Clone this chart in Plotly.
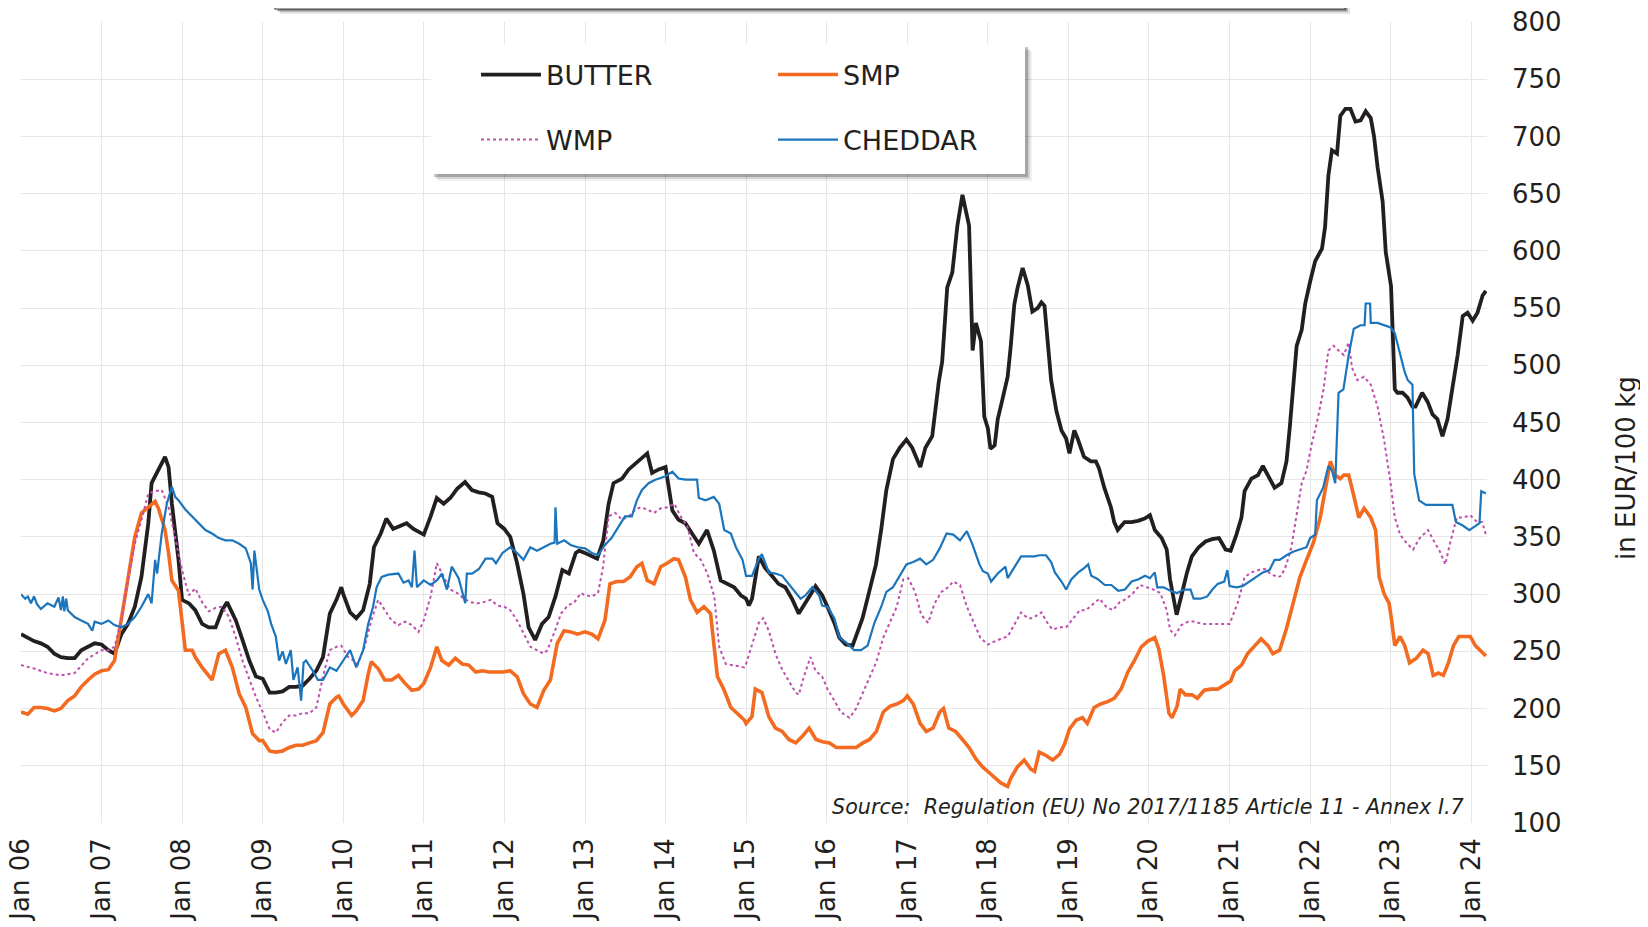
import plotly.graph_objects as go

# ---------------- data (EUR/100 kg) ----------------
butter_dates = ["2006-01-01","2006-02-01","2006-03-01","2006-04-01","2006-05-01","2006-06-01","2006-07-01","2006-08-01","2006-09-01","2006-10-01","2006-11-01","2006-12-01",
"2007-01-01","2007-02-01","2007-03-01","2007-04-01","2007-05-01","2007-06-01","2007-07-01","2007-08-01","2007-08-16","2007-09-16","2007-10-16","2007-11-01","2007-11-16","2007-12-16",
"2008-01-01","2008-02-01","2008-03-01","2008-04-01","2008-05-01","2008-06-01","2008-07-01","2008-07-23","2008-09-01","2008-10-01","2008-11-01","2008-12-01",
"2009-01-01","2009-02-01","2009-03-01","2009-04-01","2009-05-01","2009-06-01","2009-07-01","2009-08-01","2009-09-01","2009-10-01","2009-11-01","2009-12-01","2009-12-23",
"2010-01-01","2010-02-01","2010-03-01","2010-04-01","2010-05-01","2010-05-20","2010-06-20","2010-07-15","2010-08-15","2010-09-15","2010-10-15","2010-11-15","2010-12-08",
"2011-01-01","2011-02-01","2011-03-01","2011-04-01","2011-05-01","2011-06-01","2011-07-07","2011-08-07","2011-09-07","2011-10-07","2011-11-07","2011-12-01","2011-12-23",
"2012-01-01","2012-01-28","2012-02-28","2012-03-28","2012-04-20","2012-05-20","2012-06-20","2012-07-20","2012-08-20","2012-09-20","2012-10-20","2012-11-20","2012-12-05",
"2013-01-01","2013-02-10","2013-02-25","2013-03-25","2013-04-18","2013-05-10","2013-06-18","2013-07-18","2013-08-18","2013-09-18","2013-10-10","2013-11-01","2013-12-01",
"2014-01-01","2014-02-01","2014-03-01","2014-04-01","2014-05-01","2014-06-01","2014-07-08","2014-08-08","2014-09-08","2014-10-08","2014-11-08","2014-12-08",
"2015-01-01","2015-01-14","2015-01-28","2015-02-28","2015-03-28","2015-04-28","2015-05-28","2015-06-28","2015-07-28","2015-08-28","2015-09-28","2015-10-28","2015-11-12","2015-12-12",
"2016-01-05","2016-02-05","2016-02-28","2016-03-28","2016-04-28","2016-05-12","2016-06-12","2016-07-12","2016-08-12","2016-09-05","2016-09-28","2016-10-28","2016-11-28","2016-12-28",
"2017-01-23","2017-03-01","2017-03-24","2017-04-24","2017-05-24","2017-06-08","2017-07-01","2017-07-24","2017-08-16","2017-09-08","2017-10-08","2017-10-24","2017-11-08","2017-12-01","2017-12-16",
"2018-01-01","2018-01-13","2018-02-01","2018-02-15","2018-03-08","2018-04-01","2018-04-15","2018-05-01","2018-05-15","2018-06-01","2018-06-08","2018-07-01","2018-07-22","2018-08-15","2018-09-01","2018-09-15","2018-10-01","2018-10-15","2018-11-08","2018-12-01","2018-12-22",
"2019-01-06","2019-01-28","2019-02-12","2019-03-13","2019-04-13","2019-05-06","2019-05-20","2019-06-13","2019-07-13","2019-07-28","2019-08-13","2019-09-13","2019-10-13","2019-11-13","2019-12-13",
"2020-01-06","2020-01-28","2020-02-28","2020-03-22","2020-04-06","2020-04-22","2020-05-06","2020-05-28","2020-06-22","2020-07-14","2020-08-14","2020-09-14","2020-10-14","2020-11-14","2020-12-14",
"2021-01-06","2021-02-01","2021-02-24","2021-03-10","2021-04-10","2021-05-10","2021-06-01","2021-07-01","2021-07-24","2021-08-24","2021-09-16","2021-10-01","2021-10-16","2021-11-01","2021-11-24","2021-12-10",
"2022-01-01","2022-01-24","2022-02-24","2022-03-10","2022-03-25","2022-04-10","2022-05-03","2022-05-18","2022-06-10","2022-07-03","2022-07-26","2022-08-18","2022-09-10","2022-10-03","2022-10-18","2022-11-03","2022-11-26","2022-12-10",
"2023-01-03","2023-01-13","2023-01-20","2023-02-01","2023-02-24","2023-03-18","2023-04-10","2023-04-24","2023-05-24","2023-06-18","2023-07-10","2023-08-01","2023-08-24","2023-09-16","2023-10-08","2023-11-01","2023-11-24","2023-12-16",
"2024-01-08","2024-01-30","2024-02-22","2024-03-08"]
butter_vals = [265,262,259,257,254,248,245,244,244,251,254,257,
256,251,248,265,274,289,315,362,397,408,420,411,379,330,
295,292,286,274,271,271,286,293,277,260,242,228,
226,214,214,215,219,219,220,226,233,245,283,295,306,
300,284,279,286,309,341,353,366,357,360,362,357,355,
352,368,384,379,384,392,398,391,389,388,385,362,358,
357,350,327,300,271,260,274,280,298,321,318,336,338,
336,333,331,347,379,397,401,409,414,420,423,406,409,
411,373,365,362,353,344,356,338,312,309,306,299,
296,290,296,333,323,316,309,306,296,283,292,302,307,299,
289,275,262,256,255,262,279,302,326,357,391,418,428,435,
428,411,428,438,486,503,568,581,622,649,622,513,537,521,455,
445,427,430,453,470,490,517,553,567,580,585,570,547,550,555,552,513,487,460,443,436,
423,443,436,420,416,416,410,393,376,363,356,363,363,364,366,
369,356,349,339,313,296,282,299,319,333,341,346,348,349,339,
338,352,367,390,401,404,412,401,393,397,416,446,479,517,531,554,
573,591,602,621,666,688,685,718,724,724,713,714,722,716,700,673,643,599,
569,517,479,476,476,472,464,464,476,468,457,453,438,453,479,509,543,546,
539,546,561,565]

smp_dates = ["2006-01-01","2006-02-01","2006-03-01","2006-04-01","2006-05-01","2006-06-01","2006-07-01","2006-08-01","2006-09-01","2006-10-01","2006-11-01","2006-12-01",
"2007-01-01","2007-02-01","2007-03-01","2007-04-01","2007-05-01","2007-06-01","2007-07-01","2007-08-01","2007-09-01","2007-09-16","2007-10-16","2007-11-01","2007-11-16","2007-12-16",
"2008-01-01","2008-01-16","2008-02-16","2008-03-01","2008-04-01","2008-05-01","2008-05-16","2008-06-16","2008-07-16","2008-08-16","2008-09-16","2008-10-16","2008-11-16","2008-12-16",
"2009-01-01","2009-02-01","2009-03-01","2009-04-01","2009-05-01","2009-06-01","2009-07-01","2009-08-01","2009-09-01","2009-10-01","2009-11-01","2009-12-01","2009-12-12",
"2010-01-01","2010-02-08","2010-03-01","2010-04-01","2010-04-24","2010-05-08","2010-06-08","2010-07-08","2010-08-08","2010-09-08","2010-10-08","2010-11-08","2010-12-08",
"2011-01-01","2011-02-01","2011-03-01","2011-03-24","2011-04-24","2011-05-24","2011-06-24","2011-07-24","2011-08-24","2011-09-24","2011-10-24","2011-11-24","2011-12-24",
"2012-01-28","2012-02-28","2012-03-28","2012-04-28","2012-05-28","2012-06-28","2012-07-28","2012-08-28","2012-09-28","2012-10-28","2012-11-28",
"2013-01-01","2013-02-01","2013-03-01","2013-04-01","2013-04-24","2013-05-24","2013-06-24","2013-07-24","2013-08-24","2013-09-16","2013-10-10","2013-11-10","2013-12-10",
"2014-01-08","2014-02-08","2014-03-01","2014-04-01","2014-04-24","2014-05-24","2014-06-24","2014-07-24","2014-08-24","2014-09-24","2014-10-24","2014-11-24","2014-12-24",
"2015-01-01","2015-01-28","2015-02-12","2015-03-14","2015-04-14","2015-05-14","2015-06-14","2015-07-14","2015-08-14","2015-09-14","2015-10-14","2015-11-14","2015-12-14",
"2016-01-14","2016-02-14","2016-03-14","2016-04-14","2016-05-14","2016-06-14","2016-07-14","2016-08-14","2016-09-14","2016-10-14","2016-11-14","2016-12-14",
"2017-01-01","2017-01-28","2017-02-28","2017-03-28","2017-04-28","2017-05-28","2017-06-14","2017-07-08","2017-08-08","2017-09-08","2017-10-08","2017-11-08","2017-12-08",
"2018-01-01","2018-02-01","2018-03-01","2018-04-01","2018-04-15","2018-05-15","2018-06-15","2018-07-15","2018-08-01","2018-08-22","2018-09-22","2018-10-22","2018-11-22","2018-12-15",
"2019-01-06","2019-02-06","2019-03-06","2019-03-28","2019-04-28","2019-05-28","2019-06-28","2019-07-28","2019-08-28","2019-09-28","2019-10-28","2019-11-28","2019-12-28",
"2020-01-28","2020-02-15","2020-03-08","2020-04-01","2020-04-15","2020-05-08","2020-05-22","2020-06-15","2020-07-15","2020-08-08","2020-09-08","2020-10-08","2020-11-08","2020-12-08",
"2021-01-06","2021-01-24","2021-02-24","2021-03-24","2021-04-24","2021-05-24","2021-06-24","2021-07-16","2021-08-16","2021-09-16","2021-10-16","2021-11-16","2021-12-16",
"2022-01-16","2022-02-16","2022-03-10","2022-04-03","2022-04-25","2022-05-18","2022-06-03","2022-06-25","2022-07-18","2022-08-10","2022-09-03","2022-10-03","2022-10-25","2022-11-10","2022-12-03","2022-12-25",
"2023-01-05","2023-01-20","2023-02-13","2023-03-06","2023-03-28","2023-04-28","2023-05-28","2023-06-20","2023-07-13","2023-08-06","2023-08-28","2023-09-20","2023-10-13","2023-11-06","2023-11-28","2023-12-28",
"2024-01-20","2024-02-13","2024-03-08"]
smp_vals = [197,195,201,201,200,198,200,207,211,219,225,230,
233,234,242,280,315,350,371,376,381,375,356,336,312,303,
277,251,251,245,236,228,225,248,251,236,213,201,178,172,
172,163,162,163,166,168,168,170,172,179,204,210,211,
204,194,198,207,230,241,235,225,225,229,222,216,217,
222,236,254,242,238,244,239,238,232,233,232,232,232,
233,228,213,204,201,216,225,257,268,267,265,
267,265,261,277,309,311,311,315,324,327,312,309,324,
327,331,330,315,295,284,289,283,228,216,201,195,190,
187,193,217,214,193,183,180,173,170,176,183,173,171,
170,166,166,166,166,170,173,180,197,202,204,207,
211,204,187,180,183,197,200,183,180,173,166,156,149,
145,140,135,132,139,149,155,147,145,162,159,155,160,169,
182,190,192,187,201,204,206,209,217,232,242,254,259,
262,252,229,196,192,202,217,212,212,209,216,217,217,221,
224,233,238,248,255,261,255,248,251,270,292,315,330,
345,367,390,416,404,401,404,404,386,367,375,367,356,315,300,292,
278,255,263,255,240,244,251,248,229,231,229,240,255,263,263,263,
255,251,246]

wmp_dates = ["2006-01-01","2006-03-01","2006-05-01","2006-07-01","2006-09-01","2006-10-01","2006-11-01",
"2007-01-01","2007-02-01","2007-03-01","2007-04-01","2007-05-01","2007-06-01","2007-07-01","2007-08-01","2007-09-01","2007-10-01","2007-11-01","2007-12-01",
"2008-01-01","2008-02-01","2008-03-01","2008-04-01","2008-05-01","2008-06-01","2008-07-01","2008-08-01","2008-09-01","2008-10-01","2008-11-01","2008-12-01",
"2009-01-01","2009-02-01","2009-03-01","2009-04-01","2009-05-01","2009-06-01","2009-07-01","2009-08-01","2009-09-01","2009-10-01","2009-11-01","2009-12-01","2009-12-23",
"2010-01-23","2010-02-16","2010-03-08","2010-04-08","2010-05-08","2010-06-08","2010-07-08","2010-08-08","2010-09-08","2010-10-08","2010-11-08","2010-12-08",
"2011-01-01","2011-02-01","2011-03-01","2011-04-01","2011-05-01","2011-06-01","2011-07-01","2011-08-01","2011-09-01","2011-10-01","2011-11-01","2011-12-01",
"2012-01-01","2012-01-28","2012-02-28","2012-03-28","2012-04-28","2012-05-28","2012-06-28","2012-07-14","2012-08-14","2012-09-14","2012-10-14","2012-11-14","2012-12-14",
"2013-01-01","2013-02-01","2013-03-01","2013-03-24","2013-04-18","2013-05-18","2013-06-18","2013-07-18","2013-08-18","2013-09-10","2013-10-10","2013-11-10","2013-12-10",
"2014-01-10","2014-02-10","2014-03-10","2014-04-10","2014-05-10","2014-06-10","2014-07-10","2014-08-10","2014-09-01","2014-10-01","2014-11-01","2014-12-24",
"2015-01-01","2015-01-28","2015-02-28","2015-03-20","2015-04-14","2015-05-14","2015-06-14","2015-07-14","2015-08-14","2015-08-28","2015-09-20","2015-10-20","2015-11-12","2015-12-12",
"2016-01-05","2016-02-05","2016-03-05","2016-04-14","2016-05-14","2016-06-14","2016-07-14","2016-08-14","2016-09-14","2016-10-14","2016-11-14","2016-12-14",
"2017-01-05","2017-02-05","2017-03-05","2017-04-05","2017-05-05","2017-06-05","2017-07-05","2017-07-28","2017-08-28","2017-09-28","2017-10-28","2017-11-28",
"2018-01-01","2018-02-01","2018-03-01","2018-04-01","2018-05-01","2018-06-01","2018-07-01","2018-07-22","2018-09-01","2018-10-01","2018-10-22","2018-11-22","2018-12-22",
"2019-01-22","2019-02-22","2019-03-22","2019-04-22","2019-05-22","2019-06-22","2019-07-22","2019-08-22","2019-09-22","2019-10-22","2019-11-22","2019-12-22",
"2020-01-22","2020-02-22","2020-03-22","2020-04-06","2020-04-28","2020-05-28","2020-06-28","2020-07-28","2020-08-28","2020-09-28","2020-10-28","2020-11-28",
"2021-01-01","2021-02-08","2021-03-10","2021-04-10","2021-05-10","2021-06-10","2021-07-10","2021-08-10","2021-08-24","2021-09-16","2021-10-08","2021-10-24","2021-11-24","2021-12-16",
"2022-01-08","2022-01-31","2022-03-03","2022-03-25","2022-04-18","2022-05-10","2022-06-03","2022-06-25","2022-07-10","2022-08-03","2022-09-03","2022-10-03","2022-11-03","2022-12-03",
"2023-01-01","2023-01-20","2023-02-13","2023-03-13","2023-04-13","2023-05-13","2023-06-20","2023-07-20","2023-08-13","2023-09-06","2023-09-28","2023-10-28","2023-11-28","2023-12-28",
"2024-01-28","2024-02-20","2024-03-08"]
wmp_vals = [238,235,231,229,231,237,244,
251,251,254,277,312,344,365,388,390,391,376,350,
321,299,305,293,285,288,289,280,262,242,225,210,
197,182,179,188,194,194,196,196,201,228,251,254,255,
245,242,239,254,277,295,286,277,273,276,273,267,
277,298,327,315,304,301,296,293,292,293,295,290,
289,286,277,266,254,251,248,251,266,283,290,293,301,
299,298,301,324,368,371,365,368,374,376,374,371,375,
376,379,368,359,336,330,318,298,254,239,238,236,
239,255,275,279,268,248,234,224,214,212,228,245,233,228,
217,207,197,192,200,214,228,241,262,275,289,313,
314,302,282,275,292,302,306,311,308,289,275,262,
256,259,261,263,273,284,279,279,284,274,269,271,271,
278,286,286,291,296,289,286,293,296,301,308,306,
304,301,286,269,264,273,276,276,274,274,274,274,
274,293,315,319,321,322,317,315,316,326,341,360,397,408,
431,449,479,513,517,513,509,520,498,487,490,483,464,434,
397,367,352,345,339,349,356,345,337,326,345,367,367,369,
363,363,352]

cheddar_dates = ["2006-01-01","2006-01-20","2006-02-01","2006-02-15","2006-03-01","2006-03-15","2006-04-01","2006-05-01","2006-06-01","2006-06-20","2006-07-01","2006-07-10","2006-07-16","2006-07-25","2006-08-01","2006-09-01","2006-10-01","2006-11-01","2006-11-20","2006-12-01",
"2007-01-01","2007-02-01","2007-03-01","2007-04-01","2007-05-01","2007-06-01","2007-07-01","2007-08-01","2007-08-16","2007-09-01","2007-09-10","2007-10-01","2007-10-24","2007-11-16","2007-12-01","2007-12-16",
"2008-01-16","2008-02-16","2008-03-16","2008-04-16","2008-05-16","2008-06-16","2008-07-16","2008-08-16","2008-09-16","2008-10-16","2008-11-08","2008-11-16","2008-11-24","2008-12-16",
"2009-01-01","2009-01-24","2009-02-08","2009-03-01","2009-03-16","2009-04-01","2009-04-16","2009-05-08","2009-05-20","2009-06-08","2009-06-24","2009-07-05","2009-07-16","2009-08-16","2009-09-08","2009-10-01","2009-11-01","2009-12-01",
"2010-01-01","2010-02-01","2010-03-01","2010-04-01","2010-04-24","2010-05-16","2010-06-01","2010-06-24","2010-07-24","2010-08-24","2010-09-08","2010-10-01","2010-10-24","2010-11-08","2010-11-20","2010-12-01",
"2011-01-01","2011-02-01","2011-03-01","2011-03-24","2011-04-16","2011-05-08","2011-06-08","2011-07-08","2011-07-15","2011-08-08","2011-09-08","2011-10-08","2011-11-08","2011-11-24","2011-12-24",
"2012-01-28","2012-02-28","2012-03-28","2012-04-28","2012-05-28","2012-06-28","2012-07-28","2012-08-16","2012-08-20","2012-08-28","2012-09-28","2012-10-28","2012-11-28",
"2013-01-01","2013-02-01","2013-03-01","2013-04-01","2013-05-01","2013-06-01","2013-07-01","2013-08-01","2013-08-24","2013-09-16","2013-10-16","2013-11-16",
"2014-01-01","2014-02-01","2014-03-01","2014-04-01","2014-05-24","2014-06-01","2014-07-01","2014-08-08","2014-09-01","2014-09-24","2014-10-24","2014-11-16","2014-12-16",
"2015-01-01","2015-01-28","2015-02-28","2015-03-14","2015-04-14","2015-05-14","2015-06-14","2015-07-14","2015-08-14","2015-09-05","2015-09-28","2015-10-28","2015-11-28","2015-12-12",
"2016-01-05","2016-02-05","2016-02-28","2016-03-28","2016-05-05","2016-06-05","2016-07-05","2016-08-05","2016-09-05","2016-09-28","2016-10-28","2016-11-28","2016-12-28",
"2017-01-28","2017-02-28","2017-03-28","2017-04-28","2017-05-28","2017-06-28","2017-07-28","2017-08-28","2017-09-28","2017-10-24","2017-11-24","2017-12-10",
"2018-01-01","2018-01-16","2018-02-15","2018-03-22","2018-04-01","2018-05-01","2018-06-01","2018-07-01","2018-08-01","2018-08-22","2018-09-22","2018-10-15","2018-11-01","2018-12-01","2018-12-22",
"2019-01-15","2019-02-15","2019-03-15","2019-04-01","2019-04-15","2019-05-15","2019-06-15","2019-07-15","2019-08-15","2019-09-15","2019-10-15","2019-11-15","2019-12-15",
"2020-01-06","2020-01-28","2020-02-08","2020-03-08","2020-04-08","2020-05-08","2020-06-08","2020-07-08","2020-07-22","2020-08-22","2020-09-22","2020-10-15","2020-11-08","2020-12-08","2020-12-22",
"2021-01-01","2021-02-01","2021-03-01","2021-04-01","2021-05-01","2021-06-01","2021-07-01","2021-07-24","2021-08-16","2021-09-16","2021-10-16","2021-11-16","2021-12-16",
"2022-01-01","2022-01-24","2022-02-01","2022-03-01","2022-03-25","2022-04-10","2022-04-25","2022-05-10","2022-06-01","2022-06-25","2022-07-18","2022-08-18","2022-09-05","2022-09-10","2022-09-30","2022-10-03","2022-11-03","2022-12-03",
"2023-01-01","2023-01-20","2023-02-13","2023-03-06","2023-03-20","2023-04-10","2023-04-18","2023-05-10","2023-06-10","2023-07-10","2023-08-10","2023-09-10","2023-10-08","2023-10-24","2023-11-24","2023-12-24",
"2024-01-08","2024-01-24","2024-02-08","2024-02-16","2024-03-08"]
cheddar_vals = [300,296,298,292,298,291,287,292,289,297,286,298,285,296,286,280,277,274,268,276,
274,277,273,271,274,280,289,300,292,330,318,353,379,394,385,382,
374,368,362,356,353,349,347,347,344,340,327,304,338,304,
295,285,274,263,242,250,239,251,225,236,207,240,242,233,225,225,236,233,
242,251,236,251,274,289,306,315,317,318,318,310,312,306,338,306,
312,308,312,318,304,324,314,292,318,318,322,331,331,327,336,
341,336,330,341,338,341,344,345,376,344,347,343,341,
340,336,334,343,349,359,368,368,382,391,397,400,
403,407,401,400,400,384,382,385,379,356,353,341,330,
316,316,331,335,319,318,316,309,301,296,299,306,299,290,
289,279,262,258,251,251,255,275,289,302,306,316,326,
328,331,326,330,340,353,352,347,355,343,326,320,
318,311,318,324,314,323,333,333,333,334,334,328,319,311,304,
313,319,323,326,316,313,308,308,303,304,311,313,316,
314,319,306,306,303,301,304,304,296,296,298,304,309,311,321,
307,306,307,311,315,319,321,330,330,334,337,339,341,
349,352,382,393,412,408,397,476,479,509,532,535,535,554,554,537,537,535,
533,528,509,494,487,483,405,382,378,378,378,378,378,363,360,356,
358,360,362,390,388]

series_names = ["BUTTER", "SMP", "WMP", "CHEDDAR"]
y_ticks = [100, 150, 200, 250, 300, 350, 400, 450, 500, 550, 600, 650, 700, 750, 800]
source_text = "Source:  Regulation (EU) No 2017/1185 Article 11 - Annex I.7"
y_title = "in EUR/100 kg"

# ---------------- styling ----------------
TXT = "#231F20"
FONT = "DejaVu Sans"
OFF = 8                      # page body margin offset
W, H = 1640, 919             # figure size (fits the window after the body offset)
L, T = 21 - OFF, 22 - OFF    # plot area starts at screen x=21, y=22
PW, PH = 1466, 801           # plot area size
R, B = W - L - PW, H - T - PH


def px(x):  # screen pixel -> paper x
    return (x - OFF - L) / PW


def py(y):  # screen pixel -> paper y
    return (T + PH - (y - OFF)) / PH


fig = go.Figure()
fig.add_trace(go.Scatter(x=butter_dates, y=butter_vals, name=series_names[0], mode="lines",
                         line=dict(color="#231F20", width=3.8), legend="legend"))
fig.add_trace(go.Scatter(x=smp_dates, y=smp_vals, name=series_names[1], mode="lines",
                         line=dict(color="#F36A21", width=3.6), legend="legend"))
fig.add_trace(go.Scatter(x=wmp_dates, y=wmp_vals, name=series_names[2], mode="lines",
                         line=dict(color="#BF4FAD", width=2, dash="dot"), legend="legend2"))
fig.add_trace(go.Scatter(x=cheddar_dates, y=cheddar_vals, name=series_names[3], mode="lines",
                         line=dict(color="#1B75BC", width=2.2), legend="legend2"))

shapes = []
# top title box (cut off by the page edge)
tb = (275, 1345, -40, 9)
for off, op in [(5, 0.10), (3, 0.20), (1.5, 0.35)]:
    shapes.append(dict(type="rect", xref="paper", yref="paper", layer="above",
                       x0=px(tb[0] + off), x1=px(tb[1] + off), y0=py(tb[3] + off), y1=py(tb[2]),
                       fillcolor=f"rgba(0,0,0,{op})", line=dict(width=0)))
shapes.append(dict(type="rect", xref="paper", yref="paper", layer="above",
                   x0=px(tb[0]), x1=px(tb[1]), y0=py(tb[3]), y1=py(tb[2]),
                   fillcolor="white", line=dict(color="#444444", width=1.2)))
# legend box with drop shadow
lb = (431, 1025, 44, 174)
for off, op in [(7, 0.06), (5, 0.12), (3, 0.22)]:
    shapes.append(dict(type="rect", xref="paper", yref="paper", layer="above",
                       x0=px(lb[0] + off), x1=px(lb[1] + off), y0=py(lb[3] + off), y1=py(lb[2] + off),
                       fillcolor=f"rgba(0,0,0,{op})", line=dict(width=0)))
shapes.append(dict(type="rect", xref="paper", yref="paper", layer="above",
                   x0=px(lb[0]), x1=px(lb[1]), y0=py(lb[3]), y1=py(lb[2]),
                   fillcolor="white", line=dict(width=0)))

legend_common = dict(orientation="h", xref="paper", yref="paper", xanchor="left", yanchor="middle",
                     entrywidth=222, entrywidthmode="pixels", itemwidth=60,
                     font=dict(family=FONT, size=27, color=TXT), bgcolor="rgba(0,0,0,0)", borderwidth=0,
                     itemclick=False, itemdoubleclick=False)

fig.update_layout(
    width=W, height=H,
    margin=dict(l=L, r=R, t=T, b=B, autoexpand=False),
    paper_bgcolor="white", plot_bgcolor="white",
    showlegend=True,
    legend=dict(legend_common, x=px(476), y=py(75)),
    legend2=dict(legend_common, x=px(476), y=py(140)),
    shapes=shapes,
    xaxis=dict(type="date", range=["2006-01-01", "2024-03-13"], tick0="2006-01-01", dtick="M12",
               tickformat="%b %y", tickangle=-90, showgrid=True, gridcolor="#E6E6E6", gridwidth=1,
               zeroline=False, showline=False, ticks="", ticklabelstandoff=9, automargin=False,
               ticklabeloverflow="allow",
               tickfont=dict(family=FONT, size=26, color=TXT)),
    yaxis=dict(range=[100, 800], tickvals=y_ticks, side="right", showgrid=True, gridcolor="#E6E6E6",
               gridwidth=1, zeroline=False, showline=False, ticks="", ticklabelstandoff=24,
               automargin=False, ticklabeloverflow="allow",
               tickfont=dict(family=FONT, size=26, color=TXT)),
    annotations=[
        dict(text=source_text, xref="paper", yref="paper", x=px(1466), y=py(807),
             xanchor="right", yanchor="middle", showarrow=False,
             font=dict(family=FONT, size=20.7, color=TXT, style="italic")),
        dict(text=y_title, xref="paper", yref="paper", x=px(1626), y=py(468),
             xanchor="center", yanchor="middle", textangle=-90, showarrow=False,
             font=dict(family=FONT, size=26, color=TXT)),
    ],
)

fig.write_html("out.html")
